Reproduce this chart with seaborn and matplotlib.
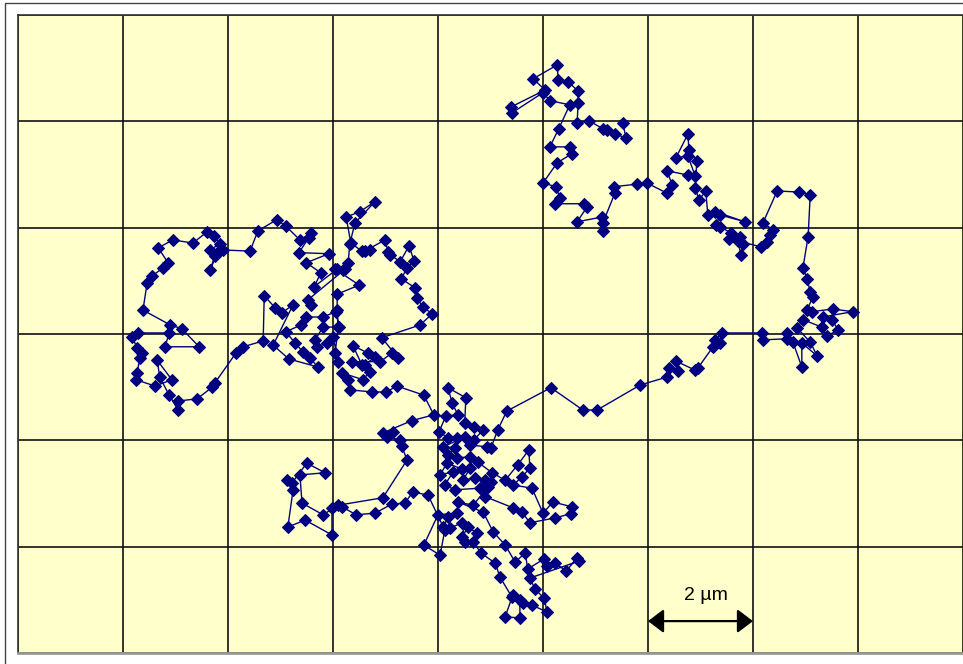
import numpy as np
import pandas as pd
import matplotlib
matplotlib.use("Agg")
import matplotlib.pyplot as plt
import seaborn as sns
from matplotlib.patches import Rectangle

# particle track, positions in micrometres (x, y)
seg_upper = [(11.52, 9.97), (11.58, 9.69), (11.37, 9.76), (11.22, 9.84), (11.14, 9.86), (10.88, 10.01),
             (10.65, 9.97), (10.67, 10.35), (10.67, 10.57), (10.48, 10.74), (10.29, 10.78), (10.27, 11.06),
             (9.81, 10.80), (10.04, 10.59), (9.39, 10.27), (9.41, 10.16), (10.00, 10.54), (10.13, 10.39),
             (10.51, 10.31), (10.30, 9.86), (10.13, 9.52), (10.51, 9.52), (10.55, 9.39), (10.27, 9.22),
             (10.00, 8.84), (10.25, 8.77), (10.32, 8.56), (10.23, 8.45), (10.78, 8.45), (10.84, 8.39),
             (10.65, 8.11), (11.12, 8.20), (11.14, 7.94), (11.14, 8.09), (11.37, 8.65), (11.35, 8.77),
             (11.79, 8.82), (11.98, 8.84)]

seg_right = [(12.36, 8.65), (12.46, 8.81), (12.36, 9.07), (12.76, 8.99), (12.90, 8.97), (12.76, 9.35),
             (12.53, 9.31), (12.76, 9.76), (12.78, 9.46), (12.93, 9.26), (12.90, 8.75), (12.97, 8.52),
             (13.10, 8.69), (13.14, 8.24), (13.28, 8.30), (13.85, 8.11), (13.37, 8.24), (13.30, 8.05),
             (13.37, 8.02), (13.58, 7.90), (13.54, 7.79), (13.75, 7.83), (13.81, 7.70), (13.77, 7.49),
             (13.71, 7.75), (14.15, 7.64), (14.27, 7.73), (14.32, 7.86), (14.38, 7.96), (14.19, 8.09),
             (14.46, 8.69), (14.88, 8.67), (15.09, 8.62), (15.05, 7.83), (14.95, 7.24), (15.03, 7.04),
             (15.09, 6.79), (15.14, 6.70), (15.03, 6.45), (15.12, 6.42), (15.52, 6.47), (15.90, 6.42),
             (15.33, 6.32), (15.50, 6.27), (15.62, 6.08), (15.41, 5.96), (15.31, 6.13), (14.95, 6.27),
             (14.84, 6.11), (15.09, 5.85), (15.22, 5.59), (14.93, 5.83), (14.93, 5.38), (14.76, 5.85),
             (14.65, 6.02), (14.65, 5.91), (14.19, 5.89), (14.17, 6.02), (13.41, 6.02), (13.28, 5.89),
             (13.37, 5.83), (13.24, 5.76), (12.95, 5.36), (12.90, 5.32), (12.53, 5.49), (12.57, 5.31),
             (12.40, 5.36), (12.36, 5.19)]

seg_bridge = [(11.85, 5.04), (11.03, 4.57), (10.76, 4.57), (10.15, 4.99), (9.31, 4.55), (9.14, 4.20),
              (9.01, 3.86)]

seg_centre = [(8.93, 3.88), (8.61, 3.91), (8.69, 4.01), (8.86, 4.20), (8.69, 4.25), (8.51, 4.33),
              (8.53, 4.80), (8.19, 4.99), (8.27, 4.70), (8.38, 4.48), (8.15, 4.46), (8.02, 4.16),
              (8.19, 4.05), (8.36, 4.05), (8.51, 4.06), (8.10, 3.88), (8.32, 3.86), (8.19, 3.73),
              (8.36, 3.67), (8.61, 3.69), (8.76, 3.59), (9.03, 3.39), (9.28, 3.25), (9.52, 3.54),
              (9.73, 3.82), (9.75, 3.48), (9.60, 3.31), (9.43, 3.16), (9.79, 3.10), (10.00, 2.63),
              (10.19, 2.84), (10.55, 2.75), (10.53, 2.62), (10.23, 2.54), (9.75, 2.45), (9.60, 2.65),
              (9.43, 2.73), (8.90, 2.94), (9.01, 3.22), (8.90, 3.25), (8.70, 3.29), (8.48, 3.25),
              (8.61, 3.48), (8.46, 3.46), (8.17, 3.57), (8.04, 3.35), (8.29, 3.41), (8.13, 3.16),
              (8.32, 3.07), (8.80, 3.10), (8.95, 3.12), (8.67, 2.78), (8.38, 2.84), (8.86, 2.65),
              (9.05, 2.28), (9.28, 2.03)]

seg_bottom = [(9.47, 1.71), (9.66, 1.88), (9.71, 1.58), (10.02, 1.77), (10.08, 1.64), (10.23, 1.69),
              (10.44, 1.54), (10.65, 1.79), (10.69, 1.73), (9.75, 1.41), (9.85, 1.20), (10.02, 1.03),
              (10.08, 0.77), (9.79, 0.90), (9.62, 0.94), (9.43, 1.09), (9.56, 1.00), (9.56, 0.66),
              (9.28, 0.68), (9.41, 1.05), (9.18, 1.43), (9.09, 1.69), (8.82, 1.88), (8.67, 2.09),
              (8.74, 2.26), (8.57, 2.37), (8.46, 2.18), (8.51, 2.09), (8.46, 2.45), (8.23, 2.35),
              (8.10, 2.37), (8.19, 2.56), (8.36, 2.63), (8.00, 2.60), (7.73, 2.03), (8.04, 1.84),
              (8.13, 2.31), (7.81, 2.97)]

seg_loop_low = [(7.52, 3.03), (7.37, 2.82), (7.12, 2.80), (6.80, 2.63), (6.44, 2.60), (6.17, 2.75),
                (5.98, 2.73), (5.98, 2.22), (5.47, 2.50), (5.14, 2.37), (5.24, 3.07), (5.12, 3.25),
                (5.22, 3.20), (5.50, 3.57), (5.85, 3.39), (5.37, 3.35), (5.41, 2.82), (5.81, 2.60),
                (6.10, 2.78), (6.95, 2.92), (7.41, 3.63)]

seg_mid = [(7.31, 3.89), (7.28, 4.01), (7.03, 4.06), (7.14, 4.16), (6.95, 4.14), (7.50, 4.37),
           (7.92, 4.48), (7.73, 4.85), (7.22, 5.02), (7.01, 4.91), (6.74, 4.91), (6.32, 4.95),
           (6.29, 5.14), (6.17, 5.27), (6.57, 5.14), (6.70, 5.29), (6.61, 5.42), (6.80, 5.57),
           (6.67, 5.64), (6.38, 5.78), (6.55, 5.42), (6.36, 5.48), (6.90, 5.48), (7.12, 5.64),
           (7.24, 5.55), (6.93, 5.93), (7.66, 6.17), (7.89, 6.38), (7.71, 6.51), (7.60, 6.68),
           (7.56, 6.87), (7.30, 7.04), (7.41, 7.24), (7.54, 7.38), (7.45, 7.66), (7.28, 7.36),
           (7.09, 7.49), (7.05, 7.54), (6.99, 7.77), (6.61, 7.56), (6.70, 7.58), (6.55, 7.56),
           (6.34, 7.71), (6.25, 8.20), (6.51, 8.30), (6.80, 8.49), (6.42, 8.09), (6.32, 7.70),
           (6.29, 7.34), (6.19, 7.21), (6.04, 7.22), (6.50, 6.92), (6.08, 6.75), (6.08, 6.45),
           (6.10, 6.13), (6.04, 5.64), (6.10, 5.48), (6.00, 5.95), (5.89, 5.83), (5.70, 5.76),
           (5.66, 5.89), (5.81, 6.13), (6.11, 6.13), (6.06, 6.42), (5.81, 6.32), (5.49, 6.32),
           (5.39, 6.17), (5.10, 6.04), (5.28, 5.83), (5.43, 5.66), (5.56, 5.55), (5.71, 5.38),
           (5.16, 5.53), (4.86, 5.79), (5.24, 6.55), (5.03, 6.40), (4.90, 6.49), (4.69, 6.72),
           (4.67, 5.87)]

seg_left = [(4.29, 5.76), (4.15, 5.64), (3.75, 5.08), (3.70, 5.00), (3.41, 4.78), (3.05, 4.74),
            (3.05, 4.57), (2.88, 4.85), (2.70, 5.19), (2.65, 5.51), (2.93, 5.14), (2.61, 5.02),
            (2.25, 5.14), (2.27, 5.27), (2.32, 5.55), (2.36, 5.64), (2.27, 5.74), (2.17, 5.95),
            (2.29, 6.02), (2.88, 6.02), (2.80, 5.76), (3.45, 5.76), (3.12, 6.10), (2.90, 6.17),
            (2.38, 6.45), (2.46, 6.96), (2.55, 7.09), (2.76, 7.24), (2.86, 7.34), (2.67, 7.62),
            (2.95, 7.77), (3.33, 7.71), (3.60, 7.92), (3.73, 7.85), (3.85, 7.70), (3.66, 7.58),
            (3.81, 7.54), (3.66, 7.21), (3.75, 7.47), (3.90, 7.58), (4.42, 7.56), (4.57, 7.94),
            (4.93, 8.15), (5.10, 8.03), (5.37, 7.77), (5.58, 7.90), (5.54, 7.81), (5.35, 7.53),
            (5.92, 7.51), (5.49, 7.34), (5.77, 7.15), (5.64, 6.89), (6.08, 7.22), (6.23, 7.22),
            (5.52, 6.64), (5.58, 6.55)]

segments = [seg_upper, seg_right, seg_bridge, seg_centre, seg_bottom, seg_loop_low, seg_mid, seg_left]
track = pd.DataFrame(np.vstack([np.array(s) for s in segments]), columns=["x_um", "y_um"])

sns.set_style("white")
plt.rcParams["font.family"] = ["Liberation Sans", "DejaVu Sans"]

fig = plt.figure(figsize=(9.63, 6.64), dpi=100)
ax = fig.add_axes([18 / 963, 11 / 664, 945 / 963, 638 / 664])
ax.set_facecolor("#FFFFCC")

sns.lineplot(data=track, x="x_um", y="y_um", sort=False, estimator=None, color="#000080",
             linewidth=1.0, marker="D", markersize=6, markeredgecolor="#000080", ax=ax)

ax.set_xlim(0, 18)
ax.set_ylim(0, 12)
ax.set_xticks(np.arange(0, 19, 2))
ax.set_yticks(np.arange(0, 13, 2))
ax.grid(True, color="#111111", linewidth=1.2)
ax.set_axisbelow(True)
ax.tick_params(left=False, bottom=False, labelleft=False, labelbottom=False)
ax.set_xlabel("")
ax.set_ylabel("")
for side in ["top", "left"]:
    ax.spines[side].set_color("#333333")
    ax.spines[side].set_linewidth(1.2)
ax.spines["right"].set_visible(False)
ax.spines["bottom"].set_color("#999999")
ax.spines["bottom"].set_linewidth(2)

# scale bar
ax.annotate("", xy=(14, 0.60), xytext=(12, 0.60),
            arrowprops=dict(arrowstyle="<|-|>,head_length=0.95,head_width=0.72", color="black",
                            lw=1.6, mutation_scale=10, shrinkA=0, shrinkB=0))
ax.text(13.1, 1.09, "2 µm", ha="center", va="center", fontsize=14, color="black")

# outer frame of the picture
fig.add_artist(Rectangle((5 / 963, -0.05), 1.2, 1 - 3 / 664 + 0.05, transform=fig.transFigure,
                         fill=False, edgecolor="#444444", linewidth=1.0))

fig.savefig("out.png", dpi=100)
plt.close()
